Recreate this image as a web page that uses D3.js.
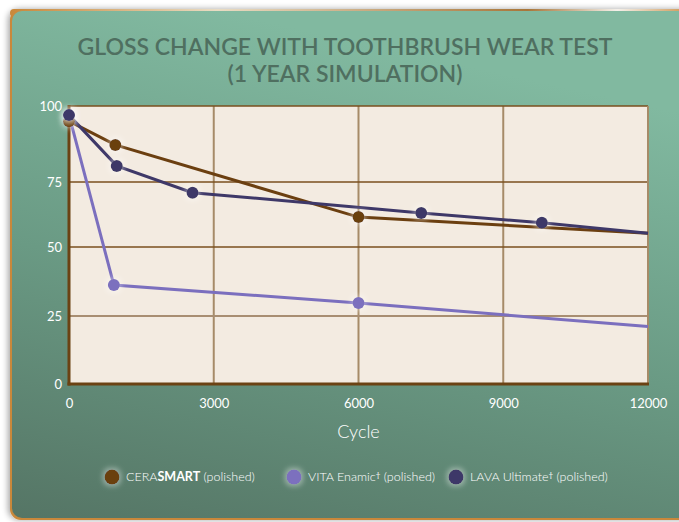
<!DOCTYPE html>
<html lang="en">
<head>
	<meta charset="UTF-8">
	<title>gloss change</title>
	<script src="https://d3js.org/d3.v7.min.js"></script>
	<style>
		html, body {
			margin: 0;
			padding: 0;
			background: #fff;
		}
		svg {
			display: block;
			font-family: Lato, sans-serif;
		}
		.tick text {
			fill: #fff;
			font-size: 13px;
		}
		.legend text {
			fill: #fff;
			font-size: 12.5px;
		}
	</style>
</head>
<body>
<div id="viz"></div>
<script>
	// values
	var seriesNames = ['CERASMART', 'VITA Enamic', 'LAVA Ultimate'];
	var seriesColors = ['#6b3f10', '#7b6fbe', '#3e3868'];

	var cerasmartCycles = [0, 960, 6000, 12000];
	var cerasmartGloss = [95, 87.2, 61.5, 55.3];

	var vitaCycles = [0, 930, 6000, 12000];
	var vitaGloss = [97, 36.2, 29.7, 21.1];

	var lavaCycles = [0, 990, 2560, 7300, 9800, 12000];
	var lavaGloss = [97, 80.3, 70.9, 63.1, 59.3, 55.3];

	var xTicks = [0, 3000, 6000, 9000, 12000];
	var yTicks = [0, 25, 50, 75, 100];

	var titleLines = ['GLOSS CHANGE WITH TOOTHBRUSH WEAR TEST', '(1 YEAR SIMULATION)'];

	var width = 679, height = 522;

	var svg = d3.select('#viz').append('svg')
		.attr('width', width)
		.attr('height', height);

	var defs = svg.append('defs');

	var bg = defs.append('linearGradient')
		.attr('id', 'card')
		.attr('x1', 0.3).attr('y1', 0)
		.attr('x2', 0).attr('y2', 1);
	bg.append('stop').attr('offset', '0%').attr('stop-color', '#81b9a0');
	bg.append('stop').attr('offset', '50%').attr('stop-color', '#6a9a84');
	bg.append('stop').attr('offset', '100%').attr('stop-color', '#557565');

	var rim = defs.append('linearGradient')
		.attr('id', 'rim')
		.attr('x1', 0).attr('y1', 0).attr('x2', 1).attr('y2', 0);
	rim.append('stop').attr('offset', '0%').attr('stop-color', '#c9883a');
	rim.append('stop').attr('offset', '30%').attr('stop-color', '#e9dcc4');
	rim.append('stop').attr('offset', '75%').attr('stop-color', '#a8763a');
	rim.append('stop').attr('offset', '88%').attr('stop-color', '#f4f0ea');
	rim.append('stop').attr('offset', '100%').attr('stop-color', '#c9883a');

	var shadow = defs.append('filter').attr('id', 'shadow')
		.attr('x', '-5%').attr('y', '-5%').attr('width', '110%').attr('height', '110%');
	shadow.append('feGaussianBlur').attr('in', 'SourceAlpha').attr('stdDeviation', 3);
	shadow.append('feOffset').attr('dx', -2).attr('dy', 0).attr('result', 'blur');
	shadow.append('feComponentTransfer').append('feFuncA').attr('type', 'linear').attr('slope', 0.35);
	var merge = shadow.append('feMerge');
	merge.append('feMergeNode');
	merge.append('feMergeNode').attr('in', 'SourceGraphic');

	var glow = defs.append('filter').attr('id', 'glow')
		.attr('x', '-100%').attr('y', '-100%').attr('width', '300%').attr('height', '300%');
	glow.append('feMorphology').attr('in', 'SourceAlpha').attr('operator', 'dilate').attr('radius', 2).attr('result', 'd');
	glow.append('feGaussianBlur').attr('in', 'd').attr('stdDeviation', 2.5).attr('result', 'b');
	glow.append('feFlood').attr('flood-color', '#ffffff').attr('flood-opacity', 0.35);
	glow.append('feComposite').attr('in2', 'b').attr('operator', 'in');
	var gm = glow.append('feMerge');
	gm.append('feMergeNode');
	gm.append('feMergeNode').attr('in', 'SourceGraphic');

	// card
	svg.append('rect')
		.attr('x', 10).attr('y', 9)
		.attr('width', 690).attr('height', 511)
		.attr('rx', 11)
		.style('fill', '#c9883a')
		.attr('filter', 'url(#shadow)');
	svg.append('rect')
		.attr('x', 10).attr('y', 9)
		.attr('width', 690).attr('height', 8)
		.attr('rx', 4)
		.style('fill', 'url(#rim)');
	svg.append('rect')
		.attr('x', 12).attr('y', 11)
		.attr('width', 690).attr('height', 507)
		.attr('rx', 10)
		.style('fill', 'url(#card)');

	// title
	svg.append('text')
		.attr('text-anchor', 'middle')
		.style('fill', '#4f6f60')
		.style('font-size', '23px')
		.style('font-weight', 600)
		.selectAll('tspan')
		.data(titleLines)
		.enter().append('tspan')
		.attr('x', 345)
		.attr('y', function (d, i) { return 55 + i * 27; })
		.text(function (d) { return d; });

	var x = d3.scaleLinear()
		.domain([0, 12000])
		.range([69, 648]);

	// the picture's y gridlines are not evenly spaced, so use a piecewise scale
	var y = d3.scaleLinear()
		.domain(yTicks)
		.range([384, 316, 247, 182, 106]);

	// plot area
	svg.append('rect')
		.attr('x', x(0)).attr('y', y(100))
		.attr('width', x(12000) - x(0)).attr('height', y(0) - y(100))
		.style('fill', '#f3ebe1');

	var grid = svg.append('g');
	grid.selectAll('.vgrid')
		.data(xTicks.slice(1, -1))
		.enter().append('line')
		.attr('x1', function (d) { return x(d); })
		.attr('x2', function (d) { return x(d); })
		.attr('y1', y(100)).attr('y2', y(0))
		.style('stroke', '#a68b68')
		.style('stroke-width', 2);
	grid.selectAll('.hgrid')
		.data(yTicks.slice(1, -1))
		.enter().append('line')
		.attr('x1', x(0)).attr('x2', x(12000))
		.attr('y1', function (d) { return y(d); })
		.attr('y2', function (d) { return y(d); })
		.style('stroke', function (d) { return d === 25 ? '#a88e72' : '#7a4f1e'; })
		.style('stroke-width', function (d) { return d === 25 ? 2 : 1.4; });

	// frame
	svg.append('line')
		.attr('x1', x(0)).attr('x2', x(12000))
		.attr('y1', y(100)).attr('y2', y(100))
		.style('stroke', '#7a4f1e').style('stroke-width', 1.5);
	svg.append('line')
		.attr('x1', x(12000)).attr('x2', x(12000))
		.attr('y1', y(100)).attr('y2', y(0))
		.style('stroke', '#a68b68').style('stroke-width', 2);
	svg.append('line')
		.attr('x1', x(0)).attr('x2', x(0))
		.attr('y1', y(100) - 1).attr('y2', y(0) + 1.5)
		.style('stroke', '#6b4213').style('stroke-width', 3);
	svg.append('line')
		.attr('x1', x(0) - 1.5).attr('x2', x(12000) + 1)
		.attr('y1', y(0)).attr('y2', y(0))
		.style('stroke', '#6b4213').style('stroke-width', 3);

	// axes
	svg.append('g')
		.attr('transform', 'translate(0,' + y(0) + ')')
		.call(d3.axisBottom(x).tickValues(xTicks).tickSize(0).tickPadding(15).tickFormat(d3.format('d')))
		.call(function (g) { g.select('.domain').remove(); })
		.selectAll('text').style('font-family', 'Lato, sans-serif');

	svg.append('g')
		.attr('transform', 'translate(' + x(0) + ',0)')
		.call(d3.axisLeft(y).tickValues(yTicks).tickSize(0).tickPadding(7))
		.call(function (g) { g.select('.domain').remove(); })
		.selectAll('text').style('font-family', 'Lato, sans-serif');

	svg.append('text')
		.attr('x', x(6000))
		.attr('y', 438)
		.attr('text-anchor', 'middle')
		.style('fill', '#fff')
		.style('font-size', '18px')
		.style('font-weight', 300)
		.text('Cycle');

	// series
	var series = [
		{ name: seriesNames[0], color: seriesColors[0], cycles: cerasmartCycles, gloss: cerasmartGloss },
		{ name: seriesNames[1], color: seriesColors[1], cycles: vitaCycles, gloss: vitaGloss },
		{ name: seriesNames[2], color: seriesColors[2], cycles: lavaCycles, gloss: lavaGloss }
	];
	series.forEach(function (s) {
		s.points = s.cycles.map(function (c, i) { return { cycle: c, gloss: s.gloss[i] }; });
	});

	var line = d3.line()
		.x(function (d) { return x(d.cycle); })
		.y(function (d) { return y(d.gloss); });

	svg.append('g').selectAll('path')
		.data(series)
		.enter().append('path')
		.attr('d', function (s) { return line(s.points); })
		.style('fill', 'none')
		.style('stroke', function (s) { return s.color; })
		.style('stroke-width', 3);

	series.forEach(function (s) {
		svg.append('g').selectAll('circle')
			.data(s.points.filter(function (d) { return d.cycle < 12000; }))
			.enter().append('circle')
			.attr('cx', function (d) { return x(d.cycle); })
			.attr('cy', function (d) { return y(d.gloss); })
			.attr('r', 6)
			.attr('filter', 'url(#glow)')
			.style('fill', s.color);
	});

	// legend
	var legendX = [112, 294, 456];
	var legend = svg.append('g').attr('class', 'legend');
	var items = legend.selectAll('g')
		.data(series)
		.enter().append('g')
		.attr('transform', function (d, i) { return 'translate(' + legendX[i] + ',477)'; });
	items.append('circle')
		.attr('r', 7.5)
		.attr('filter', 'url(#glow)')
		.style('fill', function (d) { return d.color; });
	var label = items.append('text')
		.attr('x', 14)
		.attr('dy', '0.35em');
	label.each(function (d, i) {
		var t = d3.select(this);
		if (i === 0) {
			t.append('tspan').style('font-weight', 300).text('CERA');
			t.append('tspan').style('font-weight', 700).text('SMART');
			t.append('tspan').style('font-weight', 300).text(' (polished)');
		} else {
			t.append('tspan').style('font-weight', 300).text(d.name);
			t.append('tspan').attr('baseline-shift', '40%').style('font-size', '8px').text('\u2020');
			t.append('tspan').style('font-weight', 300).text(' (polished)');
		}
	});
</script>
</body>
</html>
